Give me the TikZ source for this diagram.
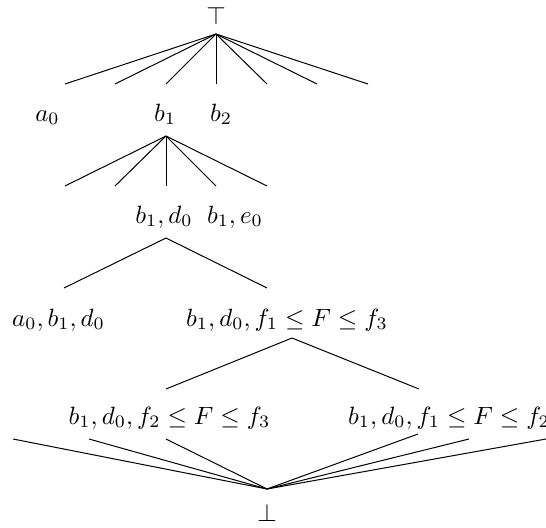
\documentclass[tikz,border=0pt]{standalone}
\begin{document}
\begin{tikzpicture}[x=0.4pt,y=-0.4pt,
  lbl/.style={anchor=base,inner sep=0pt},
  branch/.style={draw,line width=0.4pt}]
\useasboundingbox (0,0) rectangle (546,527);

% top element and its fan
\node[lbl] (top) at (216,24) {$\top$};
\coordinate (jtop) at (216,34);
\foreach \x [count=\i] in {65,115,166,216,267,317,368}
  \coordinate (t\i) at (\x,84);
\foreach \i in {1,...,7} \draw[branch] (jtop) -- (t\i);

% first level
\node[lbl] (a0) at (47.5,121) {$a_0$};
\node[lbl] (b1) at (165,121) {$b_1$};
\node[lbl] (b2) at (221,121) {$b_2$};
\coordinate (jb1) at (166,136);
\foreach \x [count=\i] in {65,115,166,216,267}
  \coordinate (u\i) at (\x,186);
\foreach \i in {1,...,5} \draw[branch] (jb1) -- (u\i);

% second level
\node[lbl] (b1d0) at (164,223) {$b_1,d_0$};
\node[lbl] (b1e0) at (235,223) {$b_1,e_0$};
\coordinate (jbd) at (166,238);
\coordinate (v1) at (64,288);
\coordinate (v2) at (267,288);
\draw[branch] (jbd) -- (v1);
\draw[branch] (jbd) -- (v2);

% third level
\node[lbl] (a0b1d0) at (58.5,326) {$a_0,b_1,d_0$};
\node[lbl] (f13) at (287,326) {$b_1,d_0,f_1\leq F\leq f_3$};
\coordinate (jf) at (292,338);
\coordinate (w1) at (166,389);
\coordinate (w2) at (419,389);
\draw[branch] (jf) -- (w1);
\draw[branch] (jf) -- (w2);

% fourth level
\node[lbl] (f23) at (169.5,424) {$b_1,d_0,f_2\leq F\leq f_3$};
\node[lbl] (f12) at (449,424) {$b_1,d_0,f_1\leq F\leq f_2$};

% bottom element and its fan
\node[lbl] (bot) at (267,521) {$\bot$};
\coordinate (jbot) at (267,489);
\coordinate (z1) at (13,439);
\coordinate (z2) at (89,439);
\coordinate (z3) at (166,439);
\coordinate (z4) at (418,434);
\coordinate (z5) at (469,439);
\coordinate (z6) at (546,439);
\foreach \i in {1,...,6} \draw[branch] (jbot) -- (z\i);
\end{tikzpicture}
\end{document}
